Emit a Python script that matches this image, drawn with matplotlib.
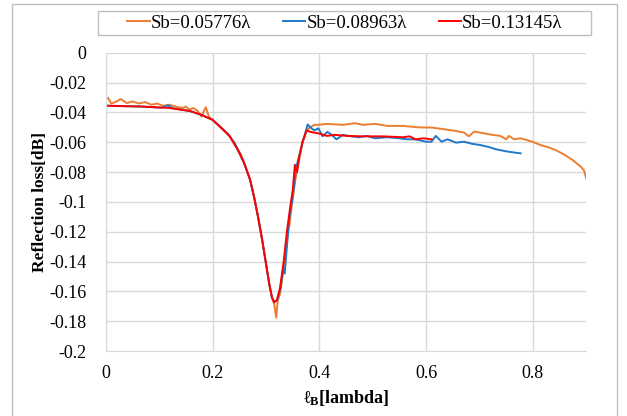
import matplotlib
matplotlib.use("Agg")
import matplotlib.pyplot as plt
from matplotlib.ticker import FuncFormatter, MultipleLocator
from matplotlib.patches import Rectangle

plt.rcParams['font.family'] = ['Liberation Serif', 'DejaVu Serif']
plt.rcParams['mathtext.fontset'] = 'custom'
plt.rcParams['mathtext.rm'] = 'Liberation Serif:bold'
plt.rcParams['mathtext.bf'] = 'Liberation Serif:bold'
plt.rcParams['mathtext.it'] = 'Liberation Serif:bold'

labels = ['Sb=0.05776λ', 'Sb=0.08963λ', 'Sb=0.13145λ']
colors = ['#ED7D31', '#1F78C8', '#FF0000']

# Sb = 0.05776 lambda (orange)
x_orange = [0.004, 0.01, 0.02, 0.028, 0.039, 0.05, 0.062, 0.073, 0.085, 0.096,
            0.107, 0.119, 0.134, 0.145, 0.149, 0.157, 0.164, 0.172, 0.179, 0.187,
            0.193, 0.2, 0.217, 0.232, 0.247, 0.253, 0.259, 0.27, 0.2775, 0.285,
            0.293, 0.3, 0.306, 0.311, 0.315, 0.319, 0.322, 0.326, 0.331, 0.336,
            0.341, 0.344, 0.349, 0.355, 0.362, 0.368, 0.376, 0.383, 0.39, 0.398,
            0.414, 0.43, 0.444, 0.467, 0.482, 0.504, 0.527, 0.557, 0.588, 0.61,
            0.633, 0.656, 0.671, 0.68, 0.69, 0.709, 0.724, 0.739, 0.75, 0.755,
            0.765, 0.777, 0.799, 0.814, 0.83, 0.845, 0.86, 0.875, 0.89, 0.896,
            0.9]
y_orange = [-0.0303, -0.034, -0.0326, -0.031, -0.0337, -0.0326, -0.034, -0.033, -0.0348, -0.034,
            -0.0355, -0.0348, -0.0364, -0.037, -0.036, -0.038, -0.037, -0.039, -0.0427, -0.0364,
            -0.043, -0.045, -0.0506, -0.056, -0.065, -0.068, -0.074, -0.085, -0.0966, -0.11,
            -0.126, -0.1416, -0.155, -0.164, -0.168, -0.1775, -0.166, -0.162, -0.15, -0.135,
            -0.12, -0.115, -0.1, -0.085, -0.072, -0.06, -0.052, -0.05, -0.0483, -0.0483,
            -0.0476, -0.048, -0.0483, -0.0472, -0.0483, -0.0476, -0.049, -0.049, -0.05, -0.0501,
            -0.0512, -0.0524, -0.0535, -0.056, -0.0528, -0.054, -0.055, -0.0557, -0.058, -0.0557,
            -0.058, -0.0573, -0.0596, -0.0618, -0.0634, -0.0656, -0.0685, -0.072, -0.0764, -0.079,
            -0.0843]

# Sb = 0.08963 lambda (blue)
x_blue = [0.004, 0.066, 0.105, 0.116, 0.125, 0.157, 0.179, 0.2, 0.217, 0.228,
          0.236, 0.242, 0.25, 0.259, 0.27, 0.2775, 0.285, 0.293, 0.3, 0.306,
          0.311, 0.316, 0.321, 0.327, 0.332, 0.335, 0.339, 0.344, 0.349, 0.357,
          0.368, 0.378, 0.385, 0.391, 0.398, 0.406, 0.415, 0.423, 0.432, 0.444,
          0.459, 0.474, 0.489, 0.504, 0.527, 0.55, 0.565, 0.58, 0.6, 0.61,
          0.618, 0.629, 0.64, 0.656, 0.671, 0.686, 0.701, 0.716, 0.731, 0.754,
          0.777]
y_blue = [-0.0355, -0.036, -0.0368, -0.0352, -0.0372, -0.039, -0.0416, -0.045, -0.0506, -0.054,
          -0.058, -0.061, -0.067, -0.074, -0.085, -0.0966, -0.11, -0.126, -0.1416, -0.155,
          -0.164, -0.167, -0.166, -0.158, -0.145, -0.148, -0.13, -0.11, -0.099, -0.076,
          -0.061, -0.048, -0.0506, -0.052, -0.0506, -0.056, -0.053, -0.055, -0.058, -0.055,
          -0.056, -0.0566, -0.0557, -0.0573, -0.0566, -0.0573, -0.058, -0.058, -0.0596, -0.0596,
          -0.0557, -0.0596, -0.058, -0.0602, -0.0596, -0.061, -0.0618, -0.063, -0.0647, -0.0663,
          -0.0674]

# Sb = 0.13145 lambda (red)
x_red = [0.004, 0.066, 0.119, 0.157, 0.179, 0.2, 0.217, 0.232, 0.247, 0.259,
         0.27, 0.2775, 0.285, 0.293, 0.3, 0.306, 0.311, 0.315, 0.32, 0.326,
         0.333, 0.339, 0.345, 0.35, 0.354, 0.358, 0.362, 0.368, 0.376, 0.383,
         0.398, 0.414, 0.429, 0.451, 0.482, 0.519, 0.557, 0.569, 0.58, 0.595,
         0.61]
y_red = [-0.0355, -0.036, -0.037, -0.039, -0.0416, -0.045, -0.0506, -0.056, -0.065, -0.074,
         -0.085, -0.0966, -0.11, -0.126, -0.1416, -0.155, -0.164, -0.1672, -0.166, -0.158,
         -0.14, -0.12, -0.104, -0.092, -0.075, -0.08, -0.07, -0.06, -0.052, -0.053,
         -0.054, -0.0557, -0.055, -0.0557, -0.056, -0.056, -0.0566, -0.056, -0.058, -0.0573,
         -0.058]

fig = plt.figure(figsize=(6.27, 4.16), dpi=100)
ax = fig.add_axes([0.169, 0.156, 0.766, 0.717])

lines = []
for xs, ys, c, lab in zip([x_orange, x_blue, x_red], [y_orange, y_blue, y_red], colors, labels):
    ln, = ax.plot(xs, ys, color=c, lw=1.4, label=lab)
    lines.append(ln)

ax.set_xlim(0, 0.9)
ax.set_ylim(-0.2, 0)
ax.xaxis.set_major_locator(MultipleLocator(0.2))
ax.yaxis.set_major_locator(MultipleLocator(0.02))
fmt = FuncFormatter(lambda v, p: ('%g' % round(v, 3)) if abs(v) > 1e-9 else '0')
ax.xaxis.set_major_formatter(fmt)
ax.yaxis.set_major_formatter(fmt)
ax.grid(True, color='#d9d9d9', lw=1)
ax.set_axisbelow(True)
ax.tick_params(length=0, labelsize=13)
ax.tick_params(axis='y', pad=14)
ax.tick_params(axis='x', pad=10)
for s in ['top', 'right']:
    ax.spines[s].set_visible(False)
for s in ['left', 'bottom']:
    ax.spines[s].set_color('#d9d9d9')

ax.set_ylabel('Reflection loss[dB]', fontsize=12.5, fontweight='bold', labelpad=1)
ax.set_xlabel(r'$\ell_{\mathrm{B}}$[lambda]', fontsize=13, fontweight='bold', labelpad=4)

fig.legend(lines, labels, loc='center', ncol=3, bbox_to_anchor=(0.55, 0.944),
           frameon=False, fontsize=13.5, handlelength=1.2, handletextpad=0.05,
           columnspacing=1.7)
fig.patches.append(Rectangle((0.157, 0.916), 0.785, 0.058, transform=fig.transFigure,
                             fill=False, edgecolor='#bfbfbf', lw=1))

fig.patches.append(Rectangle((0.019, -0.05), 0.965, 1.04, transform=fig.transFigure,
                             fill=False, edgecolor='#bfbfbf', lw=1))

fig.savefig('out.png', dpi=100)
